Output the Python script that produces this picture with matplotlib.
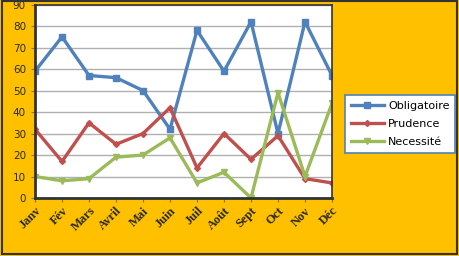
import matplotlib.pyplot as plt
from matplotlib.patches import Rectangle

months = ["Janv", "Fév", "Mars", "Avril", "Mai", "Juin",
          "Juil", "Août", "Sept", "Oct", "Nov", "Déc"]
obligatoire = [59, 75, 57, 56, 50, 32, 78, 59, 82, 30, 82, 57]
prudence = [32, 17, 35, 25, 30, 42, 14, 30, 18, 29, 9, 7]
necessite = [10, 8, 9, 19, 20, 28, 7, 12, 0, 49, 10, 44]

bg = "#FFC000"

fig = plt.figure(figsize=(4.59, 2.56), dpi=100, facecolor=bg)
ax = fig.add_axes([0.0763, 0.2266, 0.647, 0.7554])
ax.set_facecolor("white")

x = range(len(months))
ax.plot(x, obligatoire, color="#4F81BD", lw=2.4, marker="s", ms=5, label="Obligatoire")
ax.plot(x, prudence, color="#C0504D", lw=2.4, marker="D", ms=3, label="Prudence")
ax.plot(x, necessite, color="#9BBB59", lw=2.4, marker="v", ms=5, label="Necessité")

ax.set_xlim(0, len(months) - 1)
ax.set_ylim(0, 90)
ax.set_yticks(range(0, 91, 10))
ax.set_xticks(list(x))
ax.set_xticklabels(months, rotation=45, ha="right", rotation_mode="anchor",
                   family="Liberation Serif", fontsize=9, fontweight="bold", color="#2b2b2b")
ax.tick_params(axis="y", labelsize=7.5, labelcolor="#2b2b2b", length=3, color="#777777")
ax.tick_params(axis="x", length=3, color="#777777", pad=2)
ax.grid(axis="y", color="#b0b0b0", lw=1)
ax.set_axisbelow(True)
for s in ax.spines.values():
    s.set_color("#333333")
    s.set_linewidth(1.2)
ax.spines["left"].set_linewidth(2)
ax.spines["bottom"].set_linewidth(2)

leg = ax.legend(loc="upper left", bbox_to_anchor=(345 / 459, 1 - 95 / 256),
                bbox_transform=fig.transFigure, fontsize=8, frameon=True,
                fancybox=False, framealpha=1, handlelength=3, handletextpad=0.4,
                borderpad=0.5, labelspacing=0.75, borderaxespad=0)
leg.get_frame().set_edgecolor("#4F81BD")
leg.get_frame().set_linewidth(1.2)

# outer chart border
fig.patches.append(Rectangle((0.004, 0.008), 0.992, 0.99, transform=fig.transFigure,
                             fill=False, edgecolor="#333333", lw=1.5))

fig.savefig("out.png", dpi=100, facecolor=bg)
